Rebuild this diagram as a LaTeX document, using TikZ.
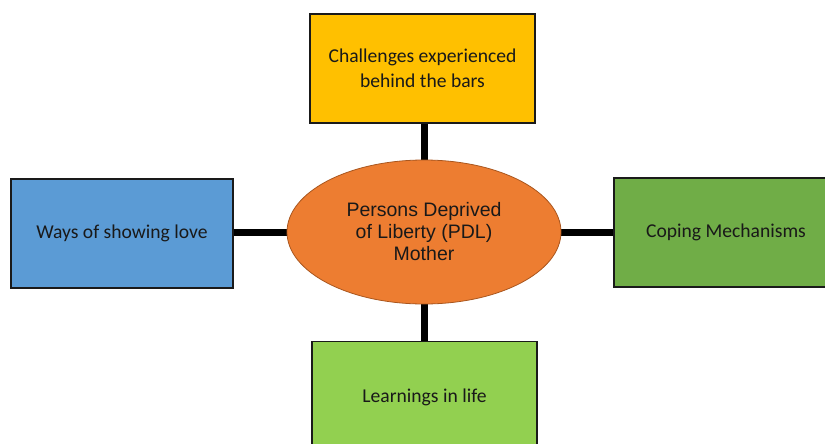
\documentclass[tikz,border=0pt]{standalone}
\usepackage{fontspec}
\setmainfont{Carlito}
\newfontfamily\arialfont{Liberation Sans}
\usetikzlibrary{shapes.geometric}
\definecolor{boxgold}{HTML}{FFC000}
\definecolor{boxblue}{HTML}{5B9BD5}
\definecolor{boxgreen}{HTML}{70AD47}
\definecolor{boxlime}{HTML}{92D050}
\definecolor{hubfill}{HTML}{ED7D31}
\definecolor{hubline}{HTML}{A9561E}
\definecolor{edge}{HTML}{1A1A1A}
\begin{document}
\begin{tikzpicture}[x=1pt,y=-1pt,
  topic/.style={draw=edge,line width=1.4pt,minimum width=222pt,minimum height=108pt,
    align=center,font=\fontsize{19.6}{24.5}\selectfont,text=black!90,inner sep=0pt},
  hub/.style={ellipse,draw=hubline,line width=0.8pt,fill=hubfill,minimum width=274pt,
    minimum height=144pt,inner sep=0pt,align=center,
    font=\arialfont\fontsize{19.5}{22}\selectfont,text=black!90},
  link/.style={line width=7pt,black}]
\useasboundingbox (0,0) rectangle (825,444);
\begin{scope}
\clip (0,0) rectangle (825,444);
% spokes behind the shapes
\coordinate (c) at (424,232);
\node[topic,fill=boxgold,minimum width=225pt,minimum height=109pt] (top) at (422.5,68.5) {Challenges experienced\\behind the bars};
\node[topic,fill=boxblue,minimum width=222pt,minimum height=109pt] (left) at (122,233.5) {Ways of showing love};
\node[topic,fill=boxgreen,minimum width=224pt,minimum height=109pt] (right) at (726,232.5) {Coping Mechanisms};
\node[topic,fill=boxlime,minimum width=225pt,minimum height=120pt,anchor=north] (bottom) at (424.5,341) {};
\node[font=\fontsize{19.6}{24.5}\selectfont,text=black!90] at (424.5,397) {Learnings in life};
\draw[link] (top.south -| c) -- (c);
\draw[link] (bottom.north -| c) -- (c);
\draw[link] (left.east |- c) -- (c);
\draw[link] (right.west |- c) -- (c);
\node[hub] (hub) at (c) {Persons Deprived\\of Liberty (PDL)\\Mother};
\end{scope}
\end{tikzpicture}
\end{document}
